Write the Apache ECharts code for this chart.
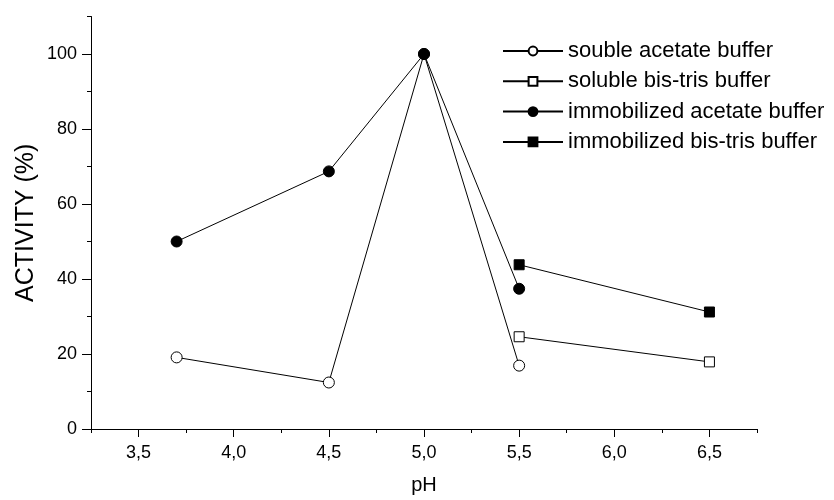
<!DOCTYPE html>
<html>
<head>
<meta charset="utf-8">
<script src="https://cdn.jsdelivr.net/npm/echarts@6/dist/echarts.min.js"></script>
<style>html,body{margin:0;padding:0;background:#fff;}#c{width:834px;height:500px;}</style>
</head>
<body>
<div id="c"></div>
<script>
const seriesNames = ['souble acetate buffer', 'soluble bis-tris buffer', 'immobilized acetate buffer', 'immobilized bis-tris buffer'];
const solubleAcetateX = [3.7, 4.5, 5.0, 5.5];
const solubleAcetateY = [19.1, 12.4, 100, 16.9];
const solubleBisTrisX = [5.5, 6.5];
const solubleBisTrisY = [24.6, 17.9];
const immobAcetateX = [3.7, 4.5, 5.0, 5.5];
const immobAcetateY = [50.0, 68.7, 100, 37.4];
const immobBisTrisX = [5.5, 6.5];
const immobBisTrisY = [43.8, 31.2];
const xMajorTicks = [3.5, 4.0, 4.5, 5.0, 5.5, 6.0, 6.5];
const yMajorTicks = [0, 20, 40, 60, 80, 100];

const FONT = "'Liberation Sans', Arial, sans-serif";
const pair = (xs, ys) => xs.map((x, i) => [x, ys[i]]);

const chart = echarts.init(document.getElementById('c'), null, {renderer: 'canvas'});
const axisLine = {show: true, onZero: false, lineStyle: {color: '#000', width: 1}};
const mkSeries = (name, data, symbol, filled) => ({
  name, type: 'line', data, symbol, symbolSize: symbol === 'rect' ? 10 : 11,
  xAxisIndex: 0, yAxisIndex: 0,
  lineStyle: {color: '#000', width: 1},
  itemStyle: {color: filled ? '#000' : '#fff', borderColor: '#000', borderWidth: 1},
  emphasis: {disabled: true}, animation: false, z: 3
});

chart.setOption({
  animation: false,
  backgroundColor: '#fff',
  grid: {left: 91, right: 77, top: 16.5, bottom: 68, containLabel: false},
  legend: {
    orient: 'vertical', left: 502, top: 40, padding: 0,
    itemWidth: 60, itemHeight: 11, itemGap: 8.3,
    textStyle: {fontFamily: FONT, fontSize: 22, color: '#000', lineHeight: 22},
    data: seriesNames
  },
  xAxis: [{
    type: 'value', min: 3.25, max: 6.75, interval: 0.25,
    axisLine, splitLine: {show: false},
    axisTick: {show: true, length: 4, lineStyle: {color: '#000'}},
    axisLabel: {show: false},
    name: 'pH', nameLocation: 'middle', nameGap: 46,
    nameTextStyle: {fontFamily: FONT, fontSize: 20, color: '#000'}
  }, {
    type: 'value', min: 3.25, max: 6.75, position: 'bottom',
    axisLine: {show: false}, splitLine: {show: false},
    axisTick: {show: true, length: 8, customValues: xMajorTicks, lineStyle: {color: '#000'}},
    axisLabel: {show: true, customValues: xMajorTicks, margin: 15,
      fontFamily: FONT, fontSize: 18, color: '#000',
      formatter: v => v.toFixed(1).replace('.', ',')}
  }],
  yAxis: [{
    type: 'value', min: 0, max: 110, interval: 10,
    axisLine, splitLine: {show: false},
    axisTick: {show: true, length: 4, lineStyle: {color: '#000'}},
    axisLabel: {show: false},
    name: 'ACTIVITY (%)', nameLocation: 'middle', nameGap: 52,
    nameTextStyle: {fontFamily: FONT, fontSize: 25, color: '#000'}
  }, {
    type: 'value', min: 0, max: 110, position: 'left',
    axisLine: {show: false}, splitLine: {show: false},
    axisTick: {show: true, length: 9, customValues: yMajorTicks, lineStyle: {color: '#000'}},
    axisLabel: {show: true, customValues: yMajorTicks, margin: 14,
      fontFamily: FONT, fontSize: 18, color: '#000'}
  }],
  series: [
    mkSeries(seriesNames[0], pair(solubleAcetateX, solubleAcetateY), 'circle', false),
    mkSeries(seriesNames[1], pair(solubleBisTrisX, solubleBisTrisY), 'rect', false),
    mkSeries(seriesNames[2], pair(immobAcetateX, immobAcetateY), 'circle', true),
    mkSeries(seriesNames[3], pair(immobBisTrisX, immobBisTrisY), 'rect', true)
  ]
});
</script>
</body>
</html>
